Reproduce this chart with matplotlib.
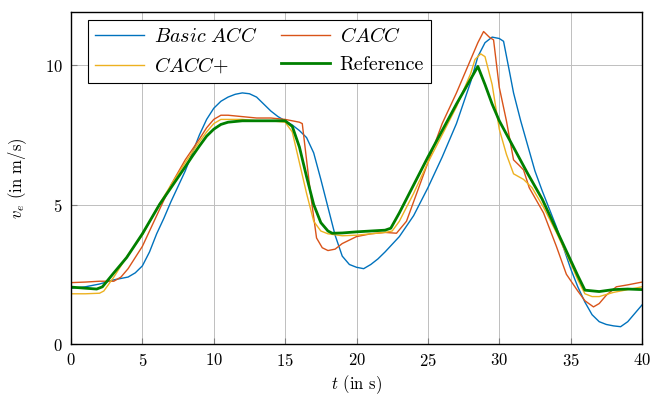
import matplotlib
matplotlib.use('Agg')
import matplotlib.pyplot as plt

plt.rcParams['font.family'] = 'serif'
plt.rcParams['font.serif'] = ['cmr10']
plt.rcParams['mathtext.fontset'] = 'cm'
plt.rcParams['axes.formatter.use_mathtext'] = True
plt.rcParams['axes.unicode_minus'] = False

# Basic ACC
t_acc = [0, 1, 2, 3, 3.5, 4, 4.5, 5, 5.5, 6, 6.5, 7, 7.5, 8, 8.5, 9, 9.5, 10, 10.5, 11, 11.5,
         12, 12.5, 13, 13.5, 14, 14.5, 15, 15.5, 16, 16.5, 17, 17.5, 18, 18.5, 19, 19.5, 20,
         20.5, 21, 21.5, 22, 23, 24, 25, 26, 27, 28, 28.5, 29, 29.5, 30, 30.3, 30.7, 31, 31.5,
         32, 32.5, 33, 34, 35, 35.5, 36, 36.5, 37, 37.5, 38, 38.5, 39, 39.5, 40]
v_acc = [2.0, 2.05, 2.15, 2.3, 2.35, 2.4, 2.55, 2.8, 3.3, 3.95, 4.5, 5.1, 5.65, 6.2, 6.85,
         7.5, 8.05, 8.45, 8.7, 8.85, 8.95, 9.0, 8.97, 8.85, 8.6, 8.35, 8.15, 8.0, 7.85, 7.65,
         7.4, 6.85, 5.9, 4.9, 3.9, 3.15, 2.85, 2.75, 2.7, 2.85, 3.05, 3.3, 3.85, 4.6, 5.6,
         6.7, 7.9, 9.4, 10.3, 10.8, 11.0, 10.95, 10.85, 9.8, 9.0, 8.0, 7.1, 6.2, 5.5, 4.2,
         2.7, 2.05, 1.5, 1.05, 0.8, 0.7, 0.65, 0.62, 0.8, 1.1, 1.4]

# CACC
t_cacc = [0, 1, 2, 3, 3.5, 4, 5, 6, 7, 8, 9, 9.5, 10, 10.5, 11, 12, 13, 14, 15, 15.5, 16,
          16.2, 16.5, 16.8, 17.2, 17.6, 18, 18.5, 19, 20, 21, 22, 22.8, 23.5, 24, 25, 26, 27,
          28, 28.5, 28.9, 29.3, 29.6, 30, 30.5, 31, 31.4, 31.7, 32.1, 33.1, 34, 34.7, 35.5,
          36, 36.6, 37, 37.5, 38.2, 39, 40]
v_cacc = [2.2, 2.22, 2.25, 2.25, 2.4, 2.7, 3.5, 4.6, 5.7, 6.6, 7.35, 7.75, 8.05, 8.2, 8.2,
          8.15, 8.1, 8.1, 8.05, 8.0, 7.95, 7.9, 6.6, 5.3, 3.8, 3.45, 3.35, 3.4, 3.6, 3.85,
          3.95, 4.0, 3.97, 4.4, 5.1, 6.5, 7.9, 9.0, 10.2, 10.8, 11.2, 11.0, 10.9, 9.2, 8.0,
          6.6, 6.4, 6.24, 5.6, 4.7, 3.5, 2.5, 1.9, 1.55, 1.33, 1.45, 1.75, 2.05, 2.12, 2.22]

# CACC+
t_caccp = [0, 1, 2, 2.3, 3, 4, 5, 6, 7, 8, 9, 9.5, 10, 10.5, 11, 12, 13, 14, 15, 15.5, 16,
           16.5, 17, 17.5, 18, 19, 20, 21, 22, 22.5, 23, 24, 25, 26, 27, 28, 28.3, 28.7, 29,
           29.5, 30, 30.5, 31, 31.7, 32.3, 33.1, 34, 35, 35.5, 36, 36.5, 37, 38, 39, 40]
v_caccp = [1.8, 1.8, 1.82, 1.9, 2.4, 3.2, 3.9, 4.85, 5.7, 6.5, 7.25, 7.6, 7.9, 8.05, 8.05,
           8.05, 8.0, 8.0, 7.95, 7.6, 6.5, 5.4, 4.4, 4.05, 3.95, 3.88, 3.9, 3.95, 4.0, 4.05,
           4.4, 5.4, 6.5, 7.5, 8.5, 9.7, 10.2, 10.4, 10.3, 9.3, 7.7, 6.8, 6.1, 5.9, 5.6, 4.9,
           4.0, 2.9, 2.3, 1.8, 1.7, 1.7, 1.85, 1.95, 2.05]

# Reference
t_ref = [0, 1, 1.8, 2.2, 2.6, 3, 3.9, 5, 6.2, 7, 8, 8.55, 9, 9.5, 10, 10.5, 11, 12, 13, 14,
         15, 15.5, 16, 16.5, 17, 17.5, 18, 18.3, 19, 20, 21, 22, 22.4, 23, 24, 25, 26, 27,
         28, 28.5, 29, 29.5, 30, 31, 32, 33, 34, 35, 35.5, 36, 37, 38, 39, 40]
v_ref = [2.04, 2.0, 1.97, 2.05, 2.3, 2.55, 3.1, 3.95, 5.0, 5.6, 6.35, 6.77, 7.1, 7.45, 7.7,
         7.87, 7.95, 8.0, 8.0, 8.0, 8.0, 7.8, 7.06, 6.0, 5.0, 4.35, 4.05, 3.97, 3.98, 4.02,
         4.05, 4.08, 4.15, 4.7, 5.7, 6.7, 7.65, 8.6, 9.5, 9.95, 9.3, 8.6, 8.0, 7.05, 6.1, 5.2,
         4.1, 3.0, 2.45, 1.93, 1.88, 1.95, 1.97, 1.95]

x_ticks = [0, 5, 10, 15, 20, 25, 30, 35, 40]
y_ticks = [0, 5, 10]

fig = plt.figure(figsize=(6.55, 3.96), dpi=100)
ax = fig.add_axes([0.1084, 0.1313, 0.8718, 0.8384])

l1, = ax.plot(t_acc, v_acc, color='#0072BD', lw=1.0, label=r'$Basic\ ACC$')
l2, = ax.plot(t_cacc, v_cacc, color='#D95319', lw=1.0, label=r'$CACC$')
l3, = ax.plot(t_caccp, v_caccp, color='#EDB120', lw=1.0, label=r'$CACC{+}$')
l4, = ax.plot(t_ref, v_ref, color='#008000', lw=2.0, label='Reference')

ax.set_xlim(0, 40)
ax.set_ylim(0, 11.9)
ax.set_xticks(x_ticks)
ax.set_yticks(y_ticks)
ax.grid(True, color='#bfbfbf', lw=0.7)
ax.set_axisbelow(True)
ax.tick_params(direction='in', length=4, labelsize=12, color='#7f7f7f', pad=6)
for s in ax.spines.values():
    s.set_linewidth(1.0)

ax.set_xlabel(r'$t$ (in s)', fontsize=12, labelpad=3)
ax.set_ylabel(r'$v_e$ (in m/s)', fontsize=12, labelpad=11)

leg = ax.legend(handles=[l1, l3, l2, l4], ncol=2, loc='upper left',
                bbox_to_anchor=(0.03, 0.976), borderaxespad=0, fontsize=14.5,
                fancybox=False, edgecolor='black', framealpha=1,
                handlelength=2.4, handletextpad=0.5, columnspacing=1.2,
                labelspacing=0.5, borderpad=0.35)
leg.get_frame().set_linewidth(0.8)

fig.savefig('out.png', dpi=100)
